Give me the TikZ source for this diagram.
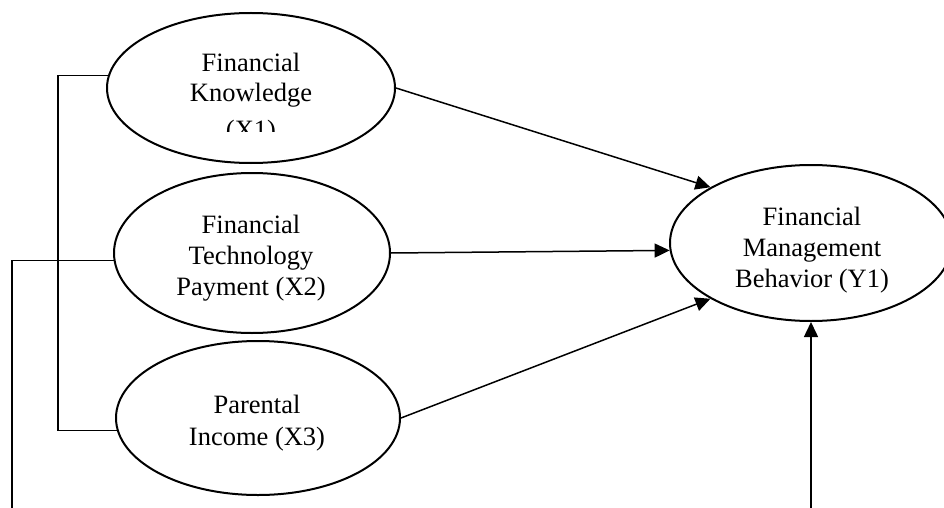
\documentclass[tikz,border=0pt]{standalone}
\usepackage{fontspec}
\setmainfont{Liberation Serif}
\usetikzlibrary{shapes.geometric,arrows.meta}
\tikzset{
  var/.style={ellipse, draw, line width=2pt, inner sep=0pt},
  lbl/.style={anchor=base, inner sep=0pt, font=\fontsize{26.5}{30}\selectfont},
  conn/.style={line width=1.5pt},
  arr/.style={conn, -{Triangle[length=15pt,width=14pt]}}
}
\begin{document}
\begin{tikzpicture}[x=1pt,y=-1pt]
\useasboundingbox (0,0) rectangle (944,508);
\clip (0,0) rectangle (944,508);
% ellipses
\node[var, minimum width=288pt, minimum height=150pt] (X1) at (251,88) {};
\node[var, minimum width=276pt, minimum height=160pt] (X2) at (252,253) {};
\node[var, minimum width=284pt, minimum height=154pt] (X3) at (258,418) {};
\node[var, minimum width=282pt, minimum height=156pt] (Y1) at (811,243) {};
% labels
\node[lbl] (t1a) at (251,72) {Financial};
\node[lbl] (t1b) at (251,102) {Knowledge};
\begin{scope}
\clip (100,0) rectangle (400,131);
\node[lbl] (t1c) at (251,138) {(X1)};
\end{scope}
\node[lbl] (t2a) at (251,233) {Financial};
\node[lbl] (t2b) at (251,264) {Technology};
\node[lbl] (t2c) at (251,295) {Payment (X2)};
\node[lbl] (t3a) at (257,413) {Parental};
\node[lbl] (t3b) at (257,445) {Income (X3)};
\node[lbl] (tya) at (812,225) {Financial};
\node[lbl] (tyb) at (812,256) {Management};
\node[lbl] (tyc) at (812,287) {Behavior (Y1)};
% coordinates
\coordinate (bx) at (58,0);
\coordinate (b2) at (12,508);
\coordinate (bot) at (811,508);
% connectors
\draw[arr] (X1.east) -- (Y1.151);
\draw[arr] (X2.east) -- (Y1.183);
\draw[arr] (X3.east) -- (Y1.209);
\draw[arr] (bot) -- (Y1.south);
\draw[conn] (X1.175) -- (X1.175 -| bx) -- (X3.185 -| bx) -- (X3.185);
\draw[conn] (X2.183) -| (b2);
\end{tikzpicture}
\end{document}
